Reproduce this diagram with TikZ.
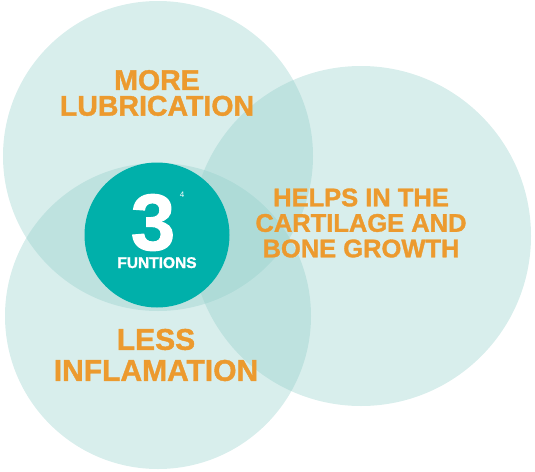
\documentclass[tikz,border=0pt]{standalone}
\usepackage{fontspec}
\setmainfont{Liberation Sans}
\newfontfamily\negra{Liberation Sans Bold}[FakeBold=1.3]
\usepackage{tikz}
\usetikzlibrary{positioning}
\definecolor{agua}{RGB}{143,205,200}
\definecolor{turquesa}{RGB}{0,176,170}
\definecolor{naranja}{RGB}{236,154,46}

\begin{document}
\begin{tikzpicture}[x=1pt, y=-1pt,
        burbuja/.style={circle, fill=agua, fill opacity=0.35, draw=none, inner sep=0pt},
        rotulo/.style={text=naranja, align=center}]
        \useasboundingbox (0,0) rectangle (535,471);
        \node[burbuja, minimum size=310pt] (lub) at (158,156) {};
        \node[burbuja, minimum size=340pt] (cre) at (361,236) {};
        \node[burbuja, minimum size=306pt] (inf) at (158,316) {};
        \node[circle, fill=turquesa, minimum size=145pt, inner sep=0pt] (fun) at (157,235) {};
        \node[text=white, inner sep=0pt, anchor=base, text height=57pt, text depth=0pt, font=\fontsize{80}{80}\selectfont\negra] (tres) at (153,250) {3};
        \node[text=white, inner sep=0pt, font=\fontsize{8}{8}\selectfont] (cuatro) at (182,195) {4};
        \node[text=white, inner sep=0pt, anchor=base, text height=11pt, text depth=0pt, font=\fontsize{15.5}{15.5}\selectfont\negra] (txt) at (157,268) {FUNTIONS};
        \node[rotulo, font=\fontsize{28.5}{25.7}\selectfont\negra] (mas) at (157,93) {MORE\\LUBRICATION};
        \node[rotulo, font=\fontsize{25.5}{25.5}\selectfont\negra] (ayu) at (361,223) {HELPS IN THE\\CARTILAGE AND\\BONE GROWTH};
        \node[rotulo, font=\fontsize{30}{31}\selectfont\negra] (men) at (156,355) {LESS\\INFLAMATION};
    \end{tikzpicture}
\end{document}
